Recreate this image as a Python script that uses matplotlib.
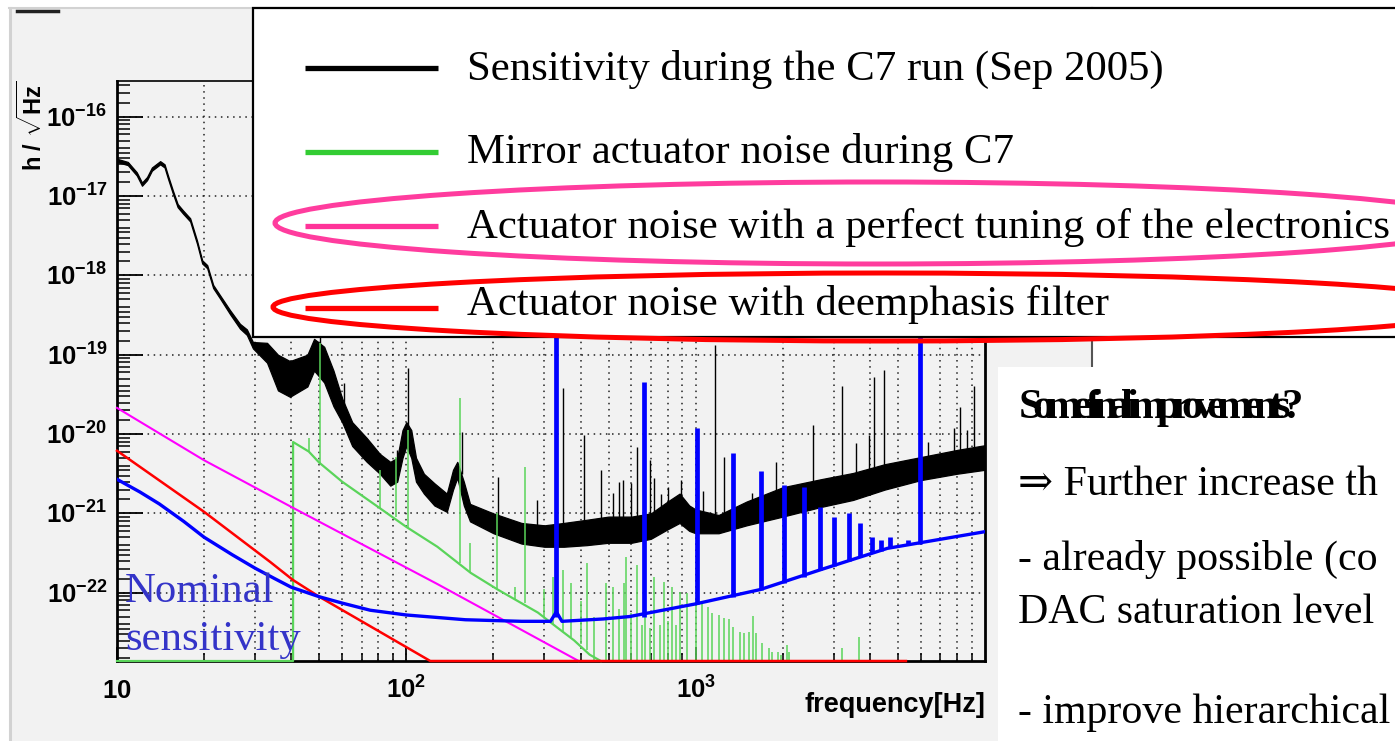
import numpy as np
import matplotlib
matplotlib.use("Agg")
import matplotlib.pyplot as plt
from matplotlib.patches import Rectangle, Ellipse
from matplotlib.ticker import FixedLocator, NullFormatter
from matplotlib.font_manager import FontProperties

plt.rcParams['mathtext.fontset'] = 'custom'
plt.rcParams['mathtext.rm'] = 'Liberation Sans'
plt.rcParams['mathtext.bf'] = 'Liberation Sans:bold'
plt.rcParams['mathtext.it'] = 'Liberation Sans:italic'
plt.rcParams['mathtext.sf'] = 'Liberation Serif:bold'

# all curve values are log10(h / sqrt(Hz))
Y_BOTTOM = -22.86
Y_TOP = -15.55

# C7 sensitivity: noisy band, low / high edge
sens_f = [10.0, 10.9, 11.7, 12.2, 12.7, 13.2, 14.1, 14.6, 15.0, 15.6, 16.2, 16.9, 17.9,
          18.9, 19.7, 20.5, 21.5, 22.7, 24.6, 26.6, 28.1, 29.5, 33.0, 36.0, 39.6, 45.5,
          48.0, 52.0, 56.0, 60.0, 65.0, 73.0, 81.0, 88.0, 93.0, 97.0, 100.0, 104.0, 108.0,
          115.0, 125.0, 138.0, 145.0, 150.0, 158.0, 166.0, 200.0, 250.0, 300.0, 350.0,
          420.0, 500.0, 600.0, 700.0, 800.0, 880.0, 950.0, 1000.0, 1200.0, 1500.0, 2000.0,
          2700.0, 3500.0, 4500.0, 6000.0, 8000.0, 10000.0]
sens_lo = [-16.57, -16.61, -16.74, -16.87, -16.80, -16.68, -16.60, -16.64, -16.78, -16.97,
           -17.14, -17.22, -17.32, -17.60, -17.85, -17.91, -18.16, -18.29, -18.49, -18.67,
           -18.75, -18.92, -19.10, -19.45, -19.53, -19.40, -19.20, -19.35, -19.65, -19.85,
           -20.15, -20.35, -20.50, -20.65, -20.60, -20.30, -20.15, -20.30, -20.60, -20.75,
           -20.90, -20.98, -20.70, -20.55, -20.90, -21.10, -21.25, -21.38, -21.42, -21.42,
           -21.40, -21.37, -21.37, -21.32, -21.20, -21.12, -21.22, -21.25, -21.25, -21.15,
           -21.04, -20.92, -20.83, -20.70, -20.58, -20.50, -20.45]
sens_hi = [-16.53, -16.57, -16.70, -16.83, -16.76, -16.64, -16.56, -16.60, -16.74, -16.93,
           -17.10, -17.18, -17.28, -17.56, -17.81, -17.87, -18.12, -18.25, -18.44, -18.61,
           -18.68, -18.84, -18.85, -19.00, -19.08, -19.00, -18.80, -18.90, -19.20, -19.55,
           -19.85, -20.05, -20.25, -20.35, -20.30, -19.95, -19.85, -19.95, -20.30, -20.50,
           -20.62, -20.75, -20.45, -20.35, -20.60, -20.88, -21.00, -21.12, -21.15, -21.12,
           -21.08, -21.04, -21.04, -21.00, -20.85, -20.75, -20.90, -20.95, -21.02, -20.85,
           -20.67, -20.57, -20.49, -20.38, -20.29, -20.20, -20.14]

# lines sticking out of the sensitivity band: freq, foot, tip
sens_spk_f = [50.4, 60.9, 81.3, 93.0, 101.6, 156, 208, 284, 347, 410, 469, 516, 545, 559,
              600, 625, 693, 720, 760, 800, 888, 1060, 1164, 1250, 1563, 1892, 2541, 3200,
              3580, 3970, 4130, 4476, 6350, 7816, 8190, 8660, 9160]
sens_spk_base = [-19.0, -19.7, -20.4, -20.45, -20.0, -20.5, -21.1, -21.25, -21.2, -21.2,
                 -21.15, -21.15, -21.1, -21.15, -21.1, -21.1, -21.05, -21.0, -21.0, -21.0,
                 -20.9, -21.0, -21.1, -21.05, -20.9, -20.8, -20.7, -20.6, -20.6, -20.5,
                 -20.5, -20.5, -20.4, -20.3, -20.3, -20.3, -20.25]
sens_spk_top = [-18.4, -19.35, -20.24, -20.2, -19.17, -19.97, -20.54, -20.83, -19.42,
                -20.01, -20.45, -20.74, -20.6, -20.58, -20.62, -20.16, -20.33, -20.55,
                -20.75, -20.67, -20.58, -20.72, -18.88, -20.29, -20.74, -20.35, -19.88,
                -19.40, -20.11, -20.01, -19.28, -19.19, -20.10, -19.92, -19.66, -19.95,
                -19.40]

# mirror actuator noise during C7
mirror_f = [10, 40.6, 40.6, 46, 50, 60, 80, 100, 128, 167, 207, 285, 330, 380, 430, 470]
mirror_v = [Y_BOTTOM, Y_BOTTOM, -20.10, -20.22, -20.36, -20.60, -20.92, -21.17, -21.42,
            -21.75, -21.96, -22.25, -22.43, -22.60, -22.78, Y_BOTTOM]
mirror_spk_f = [46.2, 50.4, 81.3, 92.2, 101.6, 153.7, 166.5, 206, 238, 258, 300, 322, 347,
                372, 400, 422, 445, 489, 520, 545, 564, 573, 600, 625, 650, 668, 695, 720,
                750, 780, 805, 830, 855, 880, 935, 1000, 1050, 1100, 1140, 1200, 1250, 1300,
                1350, 1420, 1470, 1530, 1580, 1620, 1700, 1790, 1840, 1920, 1970, 2070,
                2110, 3200, 3680]
mirror_spk_base = [-20.22, -20.36, -20.93, -21.05, -21.18, -21.62, -21.74, -21.96, -22.08,
                   -22.13, -22.30, -22.40, -22.48, -22.56, -22.65, -22.72] + [Y_BOTTOM] * 41
mirror_spk_top = [-20.05, -18.85, -20.45, -20.29, -19.95, -19.54, -21.37, -20.99, -21.93,
                  -20.41, -21.95, -21.80, -21.71, -21.88, -22.10, -21.62, -22.30, -21.88,
                  -21.93, -22.20, -21.88, -21.55, -22.25, -21.65, -22.40, -22.30, -22.45,
                  -21.80, -22.40, -21.86, -22.35, -21.93, -22.40, -21.99, -22.00, -22.12,
                  -22.13, -22.18, -22.25, -22.28, -22.32, -22.33, -22.43, -22.49, -22.51,
                  -22.49, -22.29, -22.51, -22.63, -22.70, -22.75, -22.75, -22.78, -22.66,
                  -22.75, -22.70, -22.56]

# perfect tuning of the electronics
tuned_f = [10, 20, 40.6, 128, 394]
tuned_v = [-19.67, -20.33, -20.93, -21.89, Y_BOTTOM]

# deemphasis filter
deemph_f = [10, 20, 33.8, 40.6, 50, 121, 5330]
deemph_v = [-20.21, -20.98, -21.61, -21.84, -22.05, Y_BOTTOM, Y_BOTTOM]

# nominal sensitivity
nom_f = [10, 12, 14, 17, 20, 25, 30, 35, 40, 50, 60, 75, 100, 160, 250, 315, 330, 345, 480,
         590, 720, 1000, 1670, 2700, 4600, 10000]
nom_v = [-20.57, -20.73, -20.88, -21.10, -21.30, -21.52, -21.69, -21.82, -21.93, -22.05,
         -22.13, -22.22, -22.28, -22.34, -22.36, -22.36, -22.24, -22.36, -22.33, -22.30,
         -22.24, -22.14, -21.96, -21.71, -21.44, -21.23]
nom_spk_f = [330, 661, 1007, 1343, 1680, 2016, 2365, 2685, 3005, 3383, 3690, 4063, 4380,
             4700, 5400, 5957]
nom_spk_base = [-22.30, -22.30, -22.14, -22.05, -21.96, -21.88, -21.80, -21.71, -21.66,
                -21.60, -21.55, -21.50, -21.47, -21.44, -21.40, -21.38]
nom_spk_top = [-18.0, -19.34, -19.92, -20.24, -20.46, -20.64, -20.67, -20.92, -21.04,
               -21.00, -21.12, -21.30, -21.33, -21.30, -21.33, -18.0]

legend_labels = ["Sensitivity during the C7 run (Sep 2005)",
                 "Mirror actuator noise during C7",
                 "Actuator noise with a perfect tuning of the electronics",
                 "Actuator noise with deemphasis filter"]
legend_colors = ['#000000', '#33cc33', '#ff3399', '#ff0000']

slide_title = "Some final improvements?"
slide_lines = ["\u21d2 Further increase th",
               "- already possible (co",
               "DAC saturation level",
               "- improve hierarchical"]

GREEN = '#5ad45a'
SLIDE_FS = 30.8


def h(v):
    return np.power(10.0, np.asarray(v, dtype=float))


W, H = 1395, 741
fig = plt.figure(figsize=(W / 100, H / 100), dpi=100)

# grey canvas of the ROOT picture
bg = fig.add_axes([0, 0, 1, 1], zorder=0)
bg.set_xlim(0, W)
bg.set_ylim(H, 0)
bg.axis('off')
bg.add_patch(Rectangle((10, 8), 1083, 740, facecolor='#f2f2f2', edgecolor='none'))
bg.plot([9.5, 9.5], [8, H], color='#d2d2d2', lw=2.2)
bg.plot([9, 1093], [8, 8], color='#d2d2d2', lw=1.5)
bg.plot([1092, 1092], [8, H], color='#555555', lw=1.5)
bg.plot([17, 58], [11, 11], color='#222222', lw=2.5)

# the spectrum plot
ax = fig.add_axes([117 / W, 1 - 661 / H, 868 / W, 580 / H], zorder=1)
ax.set_facecolor('#f2f2f2')
ax.set_xscale('log')
ax.set_yscale('log')
ax.set_xlim(10, 1e4)
ax.set_ylim(10 ** Y_BOTTOM, 10 ** Y_TOP)

ax.fill_between(sens_f, h(sens_lo), h(sens_hi), color='black', lw=0.9, zorder=2)
ax.vlines(sens_spk_f, h(sens_spk_base), h(sens_spk_top), color='black', lw=1.0, zorder=2)

ax.plot(mirror_f, h(mirror_v), color=GREEN, lw=1.6, zorder=3, clip_on=False)
ax.vlines(mirror_spk_f, h(mirror_spk_base), h(mirror_spk_top), color=GREEN, lw=1.1, zorder=3)

ax.plot(tuned_f, h(tuned_v), color='#ff00ff', lw=1.5, zorder=4, clip_on=False)
ax.plot(deemph_f, h(deemph_v), color='#ff0000', lw=1.8, zorder=4, clip_on=False)

ax.plot(nom_f, h(nom_v), color='#0000ff', lw=2.4, zorder=5)
ax.vlines(nom_spk_f, h(nom_spk_base), h(nom_spk_top), color='#0000ff', lw=3.4, zorder=5)

ax.xaxis.set_major_locator(FixedLocator([10, 100, 1000]))
ax.set_xticklabels([r'$\mathbf{10}$', r'$\mathbf{10^{2}}$', r'$\mathbf{10^{3}}$'])
ax.xaxis.set_minor_locator(FixedLocator([k * 10 ** e for e in (1, 2, 3) for k in range(2, 10)]))
ax.xaxis.set_minor_formatter(NullFormatter())

y_exps = list(range(-22, -15))
ax.yaxis.set_major_locator(FixedLocator([10.0 ** e for e in y_exps]))
ax.set_yticklabels([r'$\mathbf{10^{%d}}$' % e for e in y_exps])
subs = [1.5, 2, 2.5, 3, 3.5, 4, 5, 6, 7, 8, 9]
ax.yaxis.set_minor_locator(FixedLocator([s * 10.0 ** e for e in range(-23, -15) for s in subs]))
ax.yaxis.set_minor_formatter(NullFormatter())

ax.tick_params(axis='both', which='both', direction='in', top=False, right=False)
ax.tick_params(axis='y', which='major', length=19, width=1.3, pad=7, labelsize=18.5)
ax.tick_params(axis='y', which='minor', length=9.5, width=1.1)
ax.tick_params(axis='x', which='major', length=10, width=1.3, pad=12, labelsize=18.5)
ax.tick_params(axis='x', which='minor', length=6, width=1.1)

ax.set_axisbelow(True)
ax.grid(True, which='both', axis='x', color='#222222', ls=(0, (1, 3)), lw=1.1)
ax.grid(True, which='major', axis='y', color='#222222', ls=(0, (1, 3)), lw=1.1)
for side in ('left', 'bottom', 'right'):
    ax.spines[side].set_linewidth(2.0)
ax.spines['top'].set_linewidth(1.2)

# everything laid over the plot, in pixel coordinates
fg = fig.add_axes([0, 0, 1, 1], zorder=3)
fg.set_xlim(0, W)
fg.set_ylim(H, 0)
fg.axis('off')

fg.text(125, 602, 'Nominal', color='#3434c8', fontsize=SLIDE_FS, family='Liberation Serif',
        va='baseline')
fg.text(125, 650, 'sensitivity', color='#3434c8', fontsize=SLIDE_FS,
        family='Liberation Serif', va='baseline')

fg.text(985, 705, 'frequency[Hz]', ha='right', va='center', fontsize=19.5,
        fontweight='bold', family='Liberation Sans')
fg.text(32, 126, r'$\mathbf{h\ /\ \sqrt{Hz}}$', rotation=90, ha='center', va='center',
        fontsize=17)

# legend box
fg.add_patch(Rectangle((253, 8), 1250, 329, facecolor='white', edgecolor='black', lw=1.6,
                       zorder=1))
row_y = [68, 152, 226, 308]
row_base = [80, 163, 238, 315]
for lab, col, y, b in zip(legend_labels, legend_colors, row_y, row_base):
    fg.plot([305, 438], [y, y], color=col, lw=3.8, solid_capstyle='butt', zorder=2)
    fg.text(467, b, lab, fontsize=SLIDE_FS, family='Liberation Serif', va='baseline',
            zorder=2, clip_on=True)

fg.add_patch(Ellipse((877, 223), 1204, 82, fill=False, edgecolor='#ff3c9e', lw=3.6, zorder=4))
fg.add_patch(Ellipse((884, 307), 1222, 68, fill=False, edgecolor='#ff0000', lw=3.6, zorder=4))

# slide text box on the right
fg.add_patch(Rectangle((998, 367), 420, 400, facecolor='white', edgecolor='none', zorder=1))

# the heading on the slide is squeezed so that its letters run into each other
rend = fig.canvas.get_renderer()
fp_title = FontProperties(size=SLIDE_FS)


def squeezed(gap):
    toks = [r'\ ' if c == ' ' else c for c in slide_title]
    return r'$\mathsf{' + (r'\hspace{%.4f}' % gap).join(toks) + '}$'


def width(s):
    return rend.get_text_width_height_descent(s, fp_title, ismath=True)[0]


w0 = width(squeezed(0.0))
w1 = width(squeezed(-0.1))
gap = -0.1 * (284 - w0) / (w1 - w0)
fg.text(1018, 418, squeezed(gap), fontsize=SLIDE_FS, va='baseline', zorder=2)

for txt, b in zip(slide_lines, [495, 570, 623, 723]):
    fg.text(1018, b, txt, fontsize=30.2, family=['Liberation Serif', 'DejaVu Serif'],
            va='baseline', zorder=2, clip_on=True)

fig.savefig('out.png', dpi=100)
